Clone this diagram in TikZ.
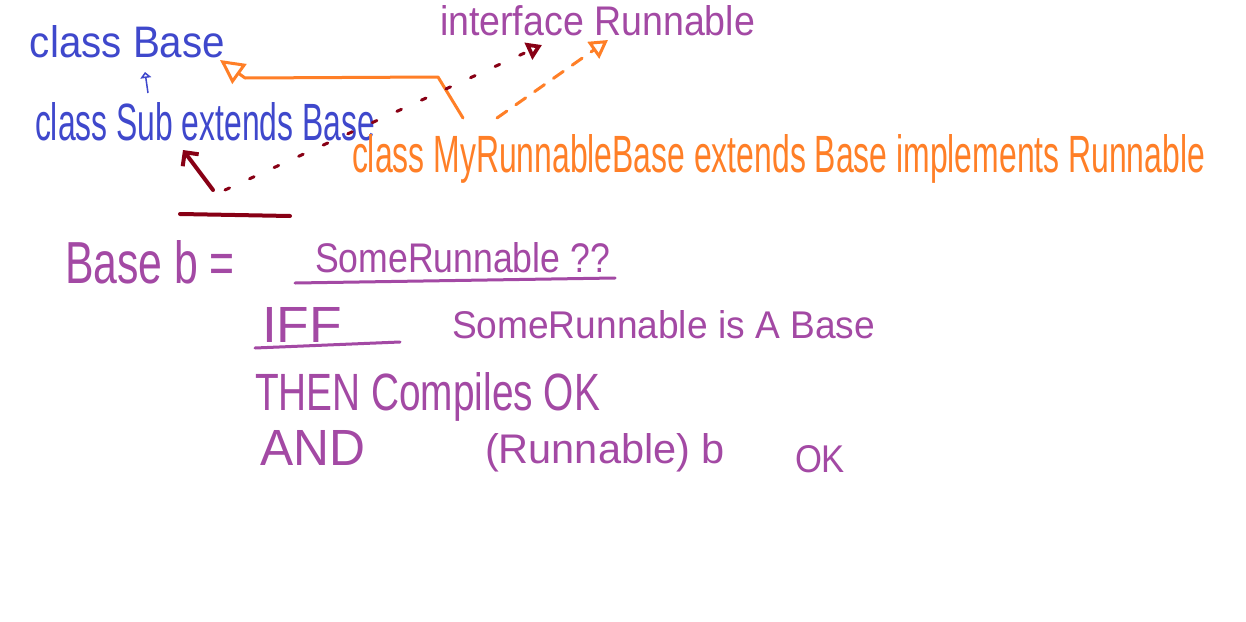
\documentclass[tikz,border=0pt]{standalone}
\usepackage{fontspec}
\setmainfont{Liberation Sans}
\usetikzlibrary{arrows.meta}
\definecolor{hblue}{HTML}{3F48CC}
\definecolor{horange}{HTML}{FF7F27}
\definecolor{hpurple}{HTML}{A349A4}
\definecolor{hred}{HTML}{880015}
\newcommand\hw[3]{\resizebox{#1pt}{#2pt}{#3}}
\begin{document}
\begin{tikzpicture}[x=1pt,y=-1pt,
  txt/.style={anchor=base west, inner sep=0pt, outer sep=0pt},
  orline/.style={draw=horange, line width=3pt, line cap=round, line join=round},
  redline/.style={draw=hred, line width=3pt, line cap=round, line join=round},
  pline/.style={draw=hpurple, line width=3pt, line cap=round}]
\fill[white] (0,0) rectangle (1246,621);
\useasboundingbox (0,0) rectangle (1246,621);
% texts
\node[txt, text=hblue] (base) at (30,57) {\hw{195}{32}{class Base}};
\node[txt, text=hblue] (sub) at (35,140) {\hw{340}{38}{class Sub extends Base}};
\node[txt, text=hpurple] (iface) at (440,35) {\hw{315}{30}{interface Runnable}};
\node[txt, text=horange] (myrun) at (352,172) {\hw{853}{38}{class MyRunnableBase extends Base implements Runnable}};
\node[txt, text=hpurple] (decl) at (65,283) {\hw{170}{43}{Base b =}};
\node[txt, text=hpurple] (some) at (315,272) {\hw{295}{30}{SomeRunnable ??}};
\node[txt, text=hpurple] (iff) at (262,342) {\hw{80}{35}{IFF}};
\node[txt, text=hpurple] (isa) at (452,338) {\hw{423}{28}{SomeRunnable is A Base}};
\node[txt, text=hpurple] (then) at (255,410) {\hw{345}{38}{THEN Compiles OK}};
\node[txt, text=hpurple] (and) at (260,465) {\hw{105}{35}{AND}};
\node[txt, text=hpurple] (cast) at (485,463) {\hw{240}{30}{(Runnable) b}};
\node[txt, text=hpurple] (ok) at (795,472) {\hw{50}{27}{OK}};
% underlines
\draw[pline] ([shift={(-20,11)}]some.base west) -- ([shift={(5,6)}]some.base east);
\draw[pline] ([shift={(-7,6)}]iff.base west) -- ([shift={(138,0)}]iff.base west);
% dark red bar
\coordinate (barL) at (180,214);
\coordinate (barR) at (290,216);
\draw[redline, line width=4pt] (barL) -- (barR);
% blue inheritance Sub -> Base
\draw[draw=hblue, line width=1.5pt, -{Triangle[open, length=6pt, width=11pt, line width=2pt]}]
  ([shift={(113,-47)}]sub.base west) -- ([shift={(115,15)}]base.base west);
% orange solid: MyRunnableBase -> Base
\draw[orline, -{Triangle[open, length=24pt, width=24pt, line width=3pt]}]
  ([shift={(111,-16)}]myrun.north west) -- ([shift={(86,-57)}]myrun.north west)
  -- ([shift={(20,21)}]base.base east) -- ([shift={(-5,3)}]base.base east);
% orange dashed: MyRunnableBase -> Runnable
\draw[orline, dash pattern=on 12pt off 11pt, -{Triangle[open, length=18pt, width=20pt, line width=3pt]}]
  ([shift={(145,-16)}]myrun.north west) -- ([shift={(168,5)}]iface.base west);
% dark red dotted: bar -> interface
\draw[redline, dash pattern=on 5pt off 22pt, -{Triangle[open, length=15pt, width=18pt, line width=4pt]}]
  ([shift={(45,-24)}]barL) -- ([shift={(102,10)}]iface.base west);
% dark red solid arrow: bar -> Sub
\draw[redline, line width=4pt, -{Straight Barb[length=10pt, width=20pt]}]
  ([shift={(33,-24)}]barL) -- ([shift={(148,10)}]sub.base west);
\end{tikzpicture}
\end{document}
